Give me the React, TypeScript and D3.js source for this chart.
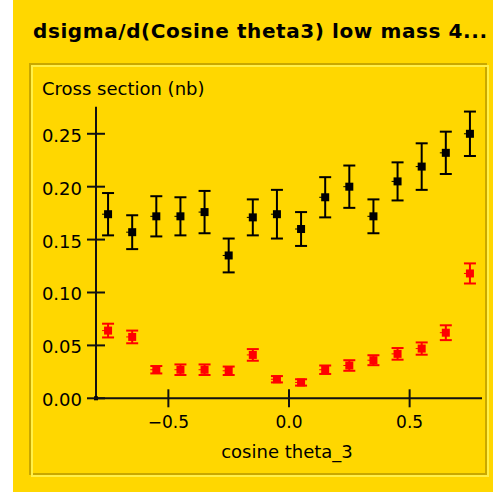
import React from "react";
import * as d3 from "d3";

// Bin centres of cos(theta_3)
const cosBins = [-0.75, -0.65, -0.55, -0.45, -0.35, -0.25, -0.15, -0.05, 0.05, 0.15, 0.25, 0.35, 0.45, 0.55, 0.65, 0.75];

// Cross section (nb), two series with symmetric errors
const blackVals = [0.174, 0.157, 0.172, 0.172, 0.176, 0.135, 0.171, 0.174, 0.160, 0.190, 0.200, 0.172, 0.205, 0.219, 0.232, 0.250];
const blackErr = [0.020, 0.016, 0.019, 0.018, 0.020, 0.016, 0.017, 0.023, 0.016, 0.019, 0.020, 0.016, 0.018, 0.022, 0.020, 0.021];
const redVals = [0.064, 0.058, 0.027, 0.027, 0.027, 0.026, 0.041, 0.018, 0.015, 0.027, 0.031, 0.036, 0.042, 0.047, 0.062, 0.118];
const redErr = [0.0065, 0.006, 0.0035, 0.005, 0.005, 0.004, 0.0055, 0.003, 0.003, 0.004, 0.005, 0.0047, 0.0055, 0.0058, 0.007, 0.0095];

const yTicks = [0, 0.05, 0.1, 0.15, 0.2, 0.25];
const xTicks = [-0.5, 0, 0.5];

const titleText = "dsigma/d(Cosine theta3) low mass 4...";
const yLabel = "Cross section (nb)";
const xLabel = "cosine theta_3";

const W = 493;
const H = 492;
const FONT = "'DejaVu Sans', sans-serif";
const BG = "#FFD700";

export default function App() {
  const x = d3.scaleLinear().domain([-0.8, 0.8]).range([96, 482]);
  const y = d3.scaleLinear().domain([0, 0.2756]).range([398.3, 106.7]);

  const series = [
    { vals: blackVals, errs: blackErr, color: "#000000" },
    { vals: redVals, errs: redErr, color: "#FF0000" },
  ];

  return (
    <svg
      width={W}
      height={H}
      style={{ position: "absolute", left: 0, top: 0 }}
      fontFamily={FONT}
    >
      <rect x={0} y={0} width={W} height={H} fill="#FFFFFF" />
      <rect x={13} y={0} width={W - 13} height={H} fill={BG} />

      <text x={33} y={38} fontSize={20} fontWeight="bold" fill="#000" textLength={454} lengthAdjust="spacing">
        {titleText}
      </text>

      {/* etched panel border */}
      <rect x={30} y={64} width={456} height={410} fill="none" stroke="#C9A800" strokeWidth={2} />
      <rect x={32} y={66} width={456} height={410} fill="none" stroke="#FFF04A" strokeWidth={2} />

      <text x={42} y={95} fontSize={18} fill="#000">
        {yLabel}
      </text>

      {/* axes */}
      <line x1={x(-0.8)} x2={x(-0.8)} y1={y(0.2756)} y2={y(0)} stroke="#111" strokeWidth={2} />
      <line x1={x(-0.8)} x2={x(0.8)} y1={y(0)} y2={y(0)} stroke="#111" strokeWidth={2} />
      <rect x={x(-0.8) - 2} y={y(0) - 2} width={4} height={4} fill="#000" />

      {yTicks.map((t) => (
        <g key={"y" + t}>
          <line x1={x(-0.8) - 9} x2={x(-0.8) + 9} y1={y(t)} y2={y(t)} stroke="#111" strokeWidth={2} />
          <text x={82} y={y(t) + 8} fontSize={18} textAnchor="end" fill="#000">
            {d3.format(".2f")(t)}
          </text>
        </g>
      ))}

      {xTicks.map((t) => (
        <g key={"x" + t}>
          <line x1={x(t)} x2={x(t)} y1={y(0) - 9} y2={y(0) + 9} stroke="#111" strokeWidth={2} />
          <text x={x(t)} y={428} fontSize={17} textAnchor="middle" fill="#000">
            {d3.format(".1f")(t).replace("-", "\u2212")}
          </text>
        </g>
      ))}

      <text x={287} y={458} fontSize={18} textAnchor="middle" fill="#000">
        {xLabel}
      </text>

      {series.map((s, si) => (
        <g key={"s" + si}>
          {cosBins.map((c, i) => {
            const cx = x(c);
            const cy = y(s.vals[i]);
            const top = y(s.vals[i] + s.errs[i]);
            const bot = y(s.vals[i] - s.errs[i]);
            return (
              <g key={i}>
                <line x1={cx} x2={cx} y1={top} y2={bot} stroke={s.color} strokeWidth={2} />
                <line x1={cx - 6} x2={cx + 6} y1={top} y2={top} stroke={s.color} strokeWidth={2} />
                <line x1={cx - 6} x2={cx + 6} y1={bot} y2={bot} stroke={s.color} strokeWidth={2} />
                <line x1={cx - 6} x2={cx} y1={cy} y2={cy} stroke={s.color} strokeWidth={1} />
                <rect x={cx - 4} y={cy - 4} width={8} height={8} fill={s.color} />
              </g>
            );
          })}
        </g>
      ))}
    </svg>
  );
}
